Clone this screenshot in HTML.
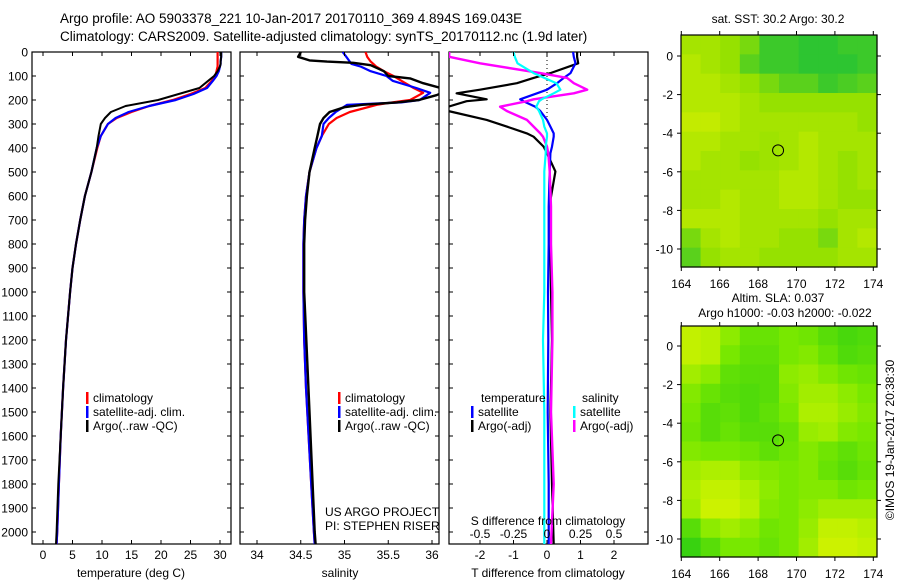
<!DOCTYPE html>
<html><head><meta charset="utf-8">
<style>
html,body{margin:0;padding:0;background:#fff;}
svg{display:block;font-family:"Liberation Sans",sans-serif;}
text{font-size:12px;fill:#000;}
</style></head>
<body>
<svg id="fig" width="900" height="580" viewBox="0 0 900 580">
<text x="60" y="23" style="font-size:13.5px">Argo profile: AO 5903378_221 10-Jan-2017 20170110_369 4.894S 169.043E</text>
<text x="60" y="41" style="font-size:13.5px">Climatology: CARS2009. Satellite-adjusted climatology: synTS_20170112.nc (1.9d later)</text>
<g id="g"></g>
<text x="325" y="516">US ARGO PROJECT</text>
<text x="325" y="530">PI: STEPHEN RISER</text>
<text x="778" y="23" text-anchor="middle">sat. SST: 30.2 Argo: 30.2</text>
<text x="778" y="302" text-anchor="middle">Altim. SLA: 0.037</text>
<text x="785" y="317" text-anchor="middle">Argo h1000: -0.03 h2000: -0.022</text>
<text transform="translate(894,440) rotate(-90)" text-anchor="middle">©IMOS 19-Jan-2017 20:38:30</text>
</svg>
<script>
// ---------- data ----------
const depths = [0,20,40,50,60,80,100,120,150,175,200,225,250,275,300,350,400,500,600,700,800,900,1000,1200,1400,1600,1800,2000,2050];
const tempArgo = [30.2,30.2,30.1,30.1,30.0,29.6,29.0,28.0,26.5,23.0,19.5,14.0,11.5,10.5,9.8,9.4,9.1,8.2,7.1,6.3,5.6,5.0,4.6,3.9,3.4,3.0,2.6,2.3,2.2];
const tempClim = [29.6,29.6,29.6,29.6,29.6,29.4,29.2,28.6,27.5,25.0,22.0,18.0,15.0,12.5,11.0,9.8,9.2,8.2,7.1,6.3,5.6,5.0,4.6,3.9,3.4,3.0,2.7,2.4,2.3];
const tempSat = [30.2,30.2,30.1,30.1,30.0,29.8,29.4,28.8,27.8,25.5,22.5,18.0,14.5,12.3,11.0,9.8,9.1,8.2,7.1,6.3,5.6,5.0,4.6,3.9,3.4,3.0,2.7,2.4,2.3];
const salArgoDepth = [0,20,35,40,45,55,80,100,110,130,150,165,180,200,210,220,230,250,275,300,350,400,500,600,700,800,1000,1500,2000,2050];
const salArgo = [34.5,34.47,34.6,34.8,35.1,35.3,35.45,35.5,35.75,35.9,36.1,36.15,36.05,35.85,35.6,35.2,35.0,34.83,34.76,34.72,34.69,34.66,34.6,34.57,34.55,34.54,34.54,34.6,34.66,34.67];
const salClim = [35.24,35.26,35.3,35.33,35.36,35.45,35.56,35.65,35.79,35.9,35.75,35.55,35.37,35.06,34.91,34.82,34.74,34.68,34.6,34.56,34.54,34.53,34.53,34.54,34.56,34.59,34.62,34.65,34.66];
const salSat = [34.98,35.02,35.06,35.08,35.18,35.3,35.48,35.55,35.82,35.98,35.86,35.65,35.03,34.9,34.82,34.76,34.74,34.68,34.6,34.56,34.54,34.53,34.53,34.54,34.56,34.59,34.62,34.65,34.66];
const salClimDepth = [0,20,40,50,60,80,100,120,150,170,200,210,220,250,275,300,350,400,500,600,700,800,1000,1200,1400,1600,1800,2000,2050];
const dDepth = [0,20,47,88,108,130,157,172,197,205,228,246,283,311,339,353,394,422,498,644,800,1000,1200,1500,1800,2050];
const dTArgo = [0.9,0.9,0.93,0.1,-0.4,-0.9,-2.0,-2.7,-1.8,-2.4,-2.95,-2.95,-1.8,-1.2,-0.6,-0.4,-0.1,0.0,0.25,0.07,0.1,0.12,0.15,0.1,0.15,0.2];
const dTSat = [0.78,0.8,0.85,0.7,0.5,0.3,0.0,-0.3,-0.8,-0.7,-0.35,-0.2,0.0,0.1,0.2,0.2,0.15,0.1,0.08,0.05,0.05,0.03,0.04,0.02,0.05,0.05];
const dSArgo = [-0.73,-0.73,-0.5,-0.05,0.15,0.2,0.3,0.2,-0.1,-0.15,-0.35,-0.3,-0.15,-0.1,-0.05,-0.03,0.0,0.01,0.02,0.03,0.03,0.04,0.04,0.03,0.05,0.03];
const dSSat = [-0.25,-0.24,-0.22,-0.1,-0.02,0.07,0.1,0.05,-0.04,-0.06,-0.08,-0.06,-0.03,-0.02,0.0,0.0,-0.01,-0.01,-0.02,-0.02,-0.02,-0.02,-0.03,-0.02,-0.02,-0.02];
const depthTicks = [0,100,200,300,400,500,600,700,800,900,1000,1100,1200,1300,1400,1500,1600,1700,1800,1900,2000];
const tempTicks = [0,5,10,15,20,25,30];
const salTicks = [34,34.5,35,35.5,36];
const salTickLabels = ["34","34.5","35","35.5","36"];
const dTTicks = [-2,-1,0,1,2];
const dSTicks = [-0.5,-0.25,0,0.25,0.5];
const dSTickLabels = ["-0.5","-0.25","0","0.25","0.5"];
const lonTicks = [164,166,168,170,172,174];
const latTicks = [0,-2,-4,-6,-8,-10];
const floatLon = 169.04, floatLat = -4.89;
const sstGrid = [
[0.6,0.6,0.5,0.4,0.2,0.2,0.15,0.15,0.2,0.2],
[0.7,0.6,0.5,0.3,0.2,0.2,0.15,0.15,0.15,0.2],
[0.7,0.7,0.6,0.5,0.4,0.3,0.3,0.2,0.25,0.3],
[0.7,0.7,0.7,0.6,0.5,0.5,0.5,0.5,0.5,0.5],
[0.8,0.8,0.7,0.6,0.6,0.6,0.6,0.6,0.6,0.5],
[0.7,0.7,0.6,0.6,0.55,0.6,0.7,0.6,0.6,0.6],
[0.7,0.6,0.6,0.5,0.55,0.6,0.7,0.6,0.5,0.6],
[0.6,0.6,0.6,0.6,0.6,0.7,0.7,0.6,0.5,0.6],
[0.6,0.6,0.7,0.6,0.6,0.7,0.7,0.6,0.5,0.5],
[0.7,0.7,0.7,0.6,0.6,0.6,0.6,0.5,0.6,0.6],
[0.4,0.6,0.7,0.6,0.6,0.5,0.5,0.4,0.6,0.7],
[0.3,0.5,0.6,0.6,0.5,0.5,0.5,0.5,0.6,0.6]];
const slaGrid = [
[0.85,0.8,0.6,0.4,0.4,0.5,0.45,0.3,0.2,0.25],
[0.85,0.8,0.5,0.35,0.35,0.5,0.55,0.4,0.25,0.3],
[0.7,0.6,0.35,0.3,0.3,0.6,0.65,0.55,0.45,0.4],
[0.55,0.4,0.3,0.25,0.3,0.55,0.7,0.7,0.6,0.5],
[0.5,0.3,0.35,0.25,0.35,0.5,0.75,0.75,0.65,0.55],
[0.45,0.3,0.4,0.3,0.3,0.4,0.65,0.7,0.55,0.5],
[0.55,0.5,0.5,0.45,0.35,0.45,0.55,0.45,0.35,0.45],
[0.7,0.75,0.75,0.6,0.55,0.5,0.55,0.4,0.3,0.4],
[0.75,0.85,0.85,0.75,0.6,0.5,0.55,0.55,0.45,0.5],
[0.7,0.9,0.9,0.8,0.55,0.5,0.6,0.7,0.7,0.7],
[0.3,0.6,0.7,0.6,0.45,0.5,0.65,0.85,0.85,0.8],
[0.1,0.3,0.5,0.5,0.4,0.5,0.7,0.9,0.9,0.85]];

// ---------- helpers ----------
const NS="http://www.w3.org/2000/svg";
const G=document.getElementById('g');
function mk(tag,attrs,parent){const e=document.createElementNS(NS,tag);for(const k in attrs)e.setAttribute(k,attrs[k]);(parent||G).appendChild(e);return e;}
function txt(x,y,s,anchor){const t=mk('text',{x:x,y:y,'text-anchor':anchor||'start'});t.textContent=s;return t;}
const PY0=52, PY1=544;
const yD = d => PY0 + d*(PY1-PY0)/2050;
function panel(x0,x1,name){
  const r=mk('rect',{x:x0,y:PY0,width:x1-x0,height:PY1-PY0,fill:'none',stroke:'#000','stroke-width':1.2});
  
  
  depthTicks.forEach(d=>{
    const t1=mk('line',{x1:x0,x2:x0+4,y1:yD(d),y2:yD(d),stroke:'#000'});
    
    
    const t2=mk('line',{x1:x1-4,x2:x1,y1:yD(d),y2:yD(d),stroke:'#000'});
    
    
  });
}
function line(xs,ds,sx,color,w,name){
  const pts=xs.map((v,i)=>sx(v).toFixed(1)+','+yD(ds[i]).toFixed(1)).join(' ');
  const p=mk('polyline',{points:pts,fill:'none',stroke:color,'stroke-width':w,'stroke-linejoin':'round'});
  
  
}
function xticks(ticks,labels,sx,x0,x1,name){
  ticks.forEach((v,i)=>{
    const x=sx(v);
    mk('line',{x1:x,x2:x,y1:PY1,y2:PY1-4,stroke:'#000'});
    mk('line',{x1:x,x2:x,y1:PY0,y2:PY0+4,stroke:'#000'});
    const t=txt(x,559,labels?labels[i]:String(v),'middle');
    
    
  });
}
function legend(x,y,items,name){
  items.forEach((it,i)=>{
    mk('rect',{x:x,y:y+i*14-10,width:2.5,height:12,fill:it[1]});
    const t=txt(x+7,y+i*14,it[0]);
    
    
  });
}

// ---------- depth labels ----------
depthTicks.forEach(d=>{
  const t=txt(28,yD(d)+4.5,String(d),'end');
  
  
});

// ---------- temperature panel ----------
const sxT = v => 43 + v*5.9;
panel(32,231,'temperature-panel');
line(tempClim,depths,sxT,'#f00',2.2,'temp-climatology-line');
line(tempSat,depths,sxT,'#00f',2.2,'temp-satellite-line');
line(tempArgo,depths,sxT,'#000',2,'temp-argo-line');
xticks(tempTicks,null,sxT,32,231,'temp-tick-label');
let t=txt(131,577,'temperature (deg C)','middle');


legend(86,402,[['climatology','#f00'],['satellite-adj. clim.','#00f'],['Argo(..raw -QC)','#000']],'temp-legend-entry');

// ---------- salinity panel ----------
const sxS = v => 257 + (v-34)*87.5;
panel(240,439,'salinity-panel');
mk('clipPath',{id:'c2'}).appendChild(document.createElementNS(NS,'rect'));
const c2=document.querySelector('#c2 rect');c2.setAttribute('x',240);c2.setAttribute('y',PY0);c2.setAttribute('width',199);c2.setAttribute('height',PY1-PY0);
const sg=mk('g',{'clip-path':'url(#c2)'});
line(salClim,salClimDepth,sxS,'#f00',2.2,'sal-climatology-line');sg.appendChild(G.lastChild);
line(salSat,salClimDepth,sxS,'#00f',2.2,'sal-satellite-line');sg.appendChild(G.lastChild);
line(salArgo,salArgoDepth,sxS,'#000',2.4,'sal-argo-line');sg.appendChild(G.lastChild);
G.appendChild(sg);
xticks(salTicks,salTickLabels,sxS,240,439,'sal-tick-label');
t=txt(340,577,'salinity','middle');


legend(338,402,[['climatology','#f00'],['satellite-adj. clim.','#00f'],['Argo(..raw -QC)','#000']],'sal-legend-entry');

// ---------- difference panel ----------
const sxDT = v => 547 + v*33.5;
const sxDS = v => 547 + v*134;
panel(449,648,'difference-panel');
mk('clipPath',{id:'c3'}).appendChild(document.createElementNS(NS,'rect'));
const c3=document.querySelector('#c3 rect');c3.setAttribute('x',449);c3.setAttribute('y',PY0);c3.setAttribute('width',199);c3.setAttribute('height',PY1-PY0);
const dg=mk('g',{'clip-path':'url(#c3)'});
const zl=mk('line',{x1:sxDT(0),x2:sxDT(0),y1:PY0,y2:yD(280),stroke:'#000','stroke-dasharray':'1,3'});


line(dTArgo,dDepth,sxDT,'#000',2.2,'dT-argo-line');dg.appendChild(G.lastChild);
line(dTSat,dDepth,sxDT,'#00f',2.2,'dT-satellite-line');dg.appendChild(G.lastChild);
line(dSArgo,dDepth,sxDS,'#f0f',2.4,'dS-argo-line');dg.appendChild(G.lastChild);
line(dSSat,dDepth,sxDS,'#0ff',2.2,'dS-satellite-line');dg.appendChild(G.lastChild);
G.appendChild(dg);
xticks(dTTicks,null,sxDT,449,648,'dT-tick-label');
dSTicks.forEach((v,i)=>{
  const tt=txt(sxDS(v),538,dSTickLabels[i],'middle');
  
  
});
t=txt(548,525,'S difference from climatology','middle');


t=txt(548,577,'T difference from climatology','middle');


t=txt(481,402,'temperature');


t=txt(582,402,'salinity');


legend(471,416,[['satellite','#00f'],['Argo(-adj)','#000']],'dT-legend-entry');
legend(573,416,[['satellite','#0ff'],['Argo(-adj)','#f0f']],'dS-legend-entry');

// ---------- maps ----------
function cmap(v,low,mid,high){
  const a=v<0.5?low:mid, b=v<0.5?mid:high, f=v<0.5?v/0.5:(v-0.5)/0.5;
  return 'rgb('+a.map((c,i)=>Math.round(c+(b[i]-c)*f)).join(',')+')';
}
function map(y0,y1,lat0y,latPx,grid,colors,name,labelY){
  const x0=681,x1=877;
  const sx=lon=>681.3+(lon-164)*19.2;
  const sy=lat=>lat0y-lat*latPx;
  const rows=grid.length, cols=grid[0].length;
  const cw=(x1-x0)/cols, ch=(y1-y0)/rows;
  grid.forEach((row,r)=>row.forEach((v,c)=>{
    const cell=mk('rect',{x:x0+c*cw,y:y0+r*ch,width:cw+0.6,height:ch+0.6,fill:cmap(v,colors[0],colors[1],colors[2])});
    
    
  }));
  const fr=mk('rect',{x:x0,y:y0,width:x1-x0,height:y1-y0,fill:'none',stroke:'#000','stroke-width':1.2});
  
  
  lonTicks.forEach(l=>{
    const x=sx(l);
    mk('line',{x1:x,x2:x,y1:y1,y2:y1+4,stroke:'#000'});
    mk('line',{x1:x,x2:x,y1:y0,y2:y0-4,stroke:'#000'});
    const tt=txt(x,labelY,String(l),'middle');
    
    
  });
  latTicks.forEach(l=>{
    const y=sy(l);
    mk('line',{x1:x0-4,x2:x0,y1:y,y2:y,stroke:'#000'});
    mk('line',{x1:x1,x2:x1+4,y1:y,y2:y,stroke:'#000'});
    const tt=txt(673,y+4.5,String(l),'end');
    
    
  });
  const c=mk('circle',{cx:sx(floatLon),cy:sy(floatLat),r:5.5,fill:'none',stroke:'#000','stroke-width':1});
  
  
}
map(35,267,56,19.3,sstGrid,[[0,185,70],[150,225,0],[225,242,0]],'sst-map',288);
map(326,557,346,19.3,slaGrid,[[40,205,20],[120,232,0],[225,245,0]],'sla-map',578);
</script>
</body></html>
